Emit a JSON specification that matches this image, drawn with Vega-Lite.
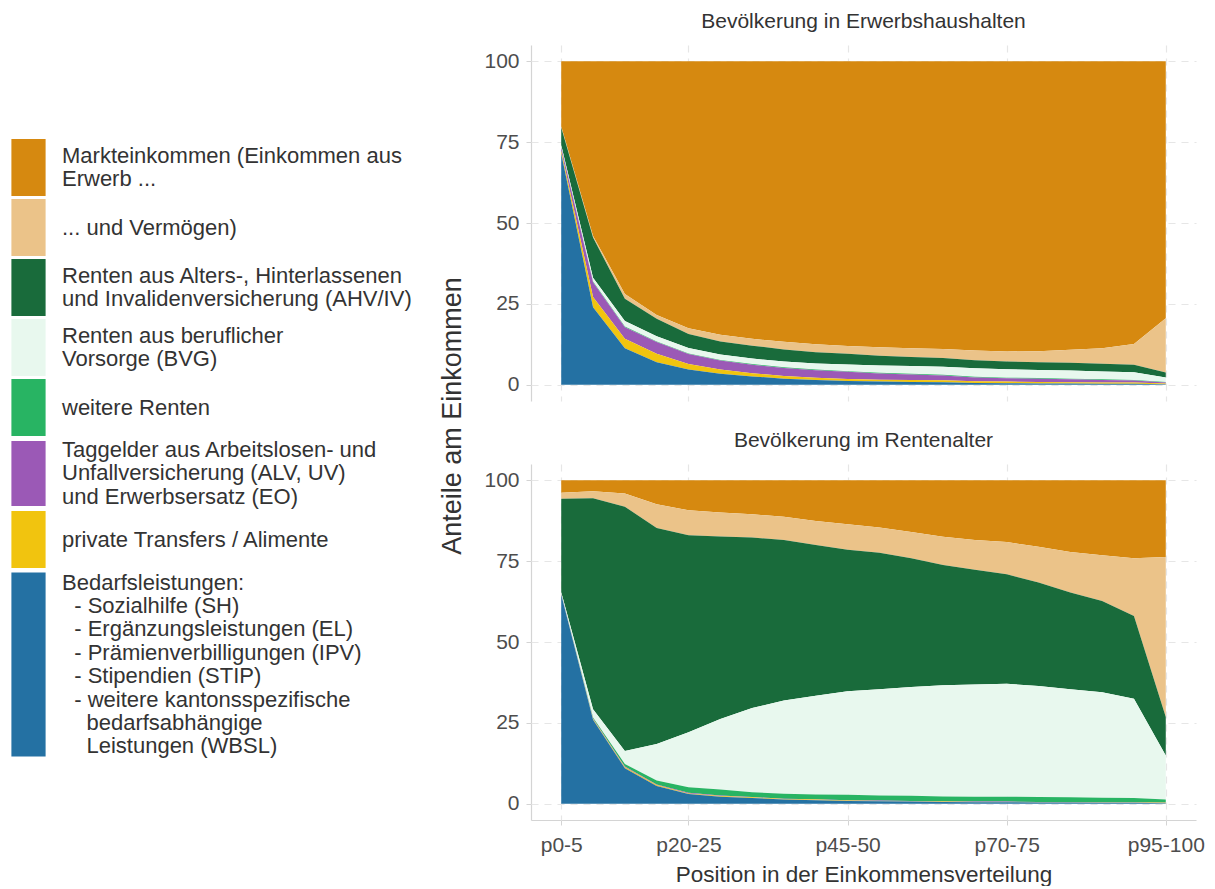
{
  "$schema": "https://vega.github.io/schema/vega-lite/v6.json",
  "background": "white",
  "padding": {"left": 0, "top": 11, "right": 20, "bottom": 0},
  "datasets": {
    "shares": [
      {"panel": "Bevölkerung in Erwerbshaushalten", "p": "p0-5", "Bedarf": 71.5, "Privat": 0.8, "Taggeld": 1.0, "Renten": 0.2, "BVG": 0.5, "AHV": 5.5, "Verm": 0.3, "Markt": 20.2},
      {"panel": "Bevölkerung in Erwerbshaushalten", "p": "p5-10", "Bedarf": 24.0, "Privat": 3.1, "Taggeld": 4.6, "Renten": 0.2, "BVG": 1.2, "AHV": 12.4, "Verm": 0.5, "Markt": 54.0},
      {"panel": "Bevölkerung in Erwerbshaushalten", "p": "p10-15", "Bedarf": 11.3, "Privat": 2.9, "Taggeld": 3.6, "Renten": 0.2, "BVG": 1.7, "AHV": 6.9, "Verm": 1.5, "Markt": 71.9},
      {"panel": "Bevölkerung in Erwerbshaushalten", "p": "p15-20", "Bedarf": 7.0, "Privat": 2.6, "Taggeld": 3.6, "Renten": 0.2, "BVG": 1.6, "AHV": 5.4, "Verm": 1.2, "Markt": 78.4},
      {"panel": "Bevölkerung in Erwerbshaushalten", "p": "p20-25", "Bedarf": 4.7, "Privat": 1.7, "Taggeld": 3.1, "Renten": 0.2, "BVG": 1.7, "AHV": 4.3, "Verm": 1.8, "Markt": 82.5},
      {"panel": "Bevölkerung in Erwerbshaushalten", "p": "p25-30", "Bedarf": 3.4, "Privat": 1.3, "Taggeld": 2.8, "Renten": 0.2, "BVG": 1.7, "AHV": 4.0, "Verm": 2.1, "Markt": 84.5},
      {"panel": "Bevölkerung in Erwerbshaushalten", "p": "p30-35", "Bedarf": 2.6, "Privat": 1.0, "Taggeld": 2.6, "Renten": 0.2, "BVG": 1.7, "AHV": 4.0, "Verm": 2.1, "Markt": 85.8},
      {"panel": "Bevölkerung in Erwerbshaushalten", "p": "p35-40", "Bedarf": 1.9, "Privat": 0.8, "Taggeld": 2.5, "Renten": 0.2, "BVG": 1.8, "AHV": 3.7, "Verm": 2.4, "Markt": 86.7},
      {"panel": "Bevölkerung in Erwerbshaushalten", "p": "p40-45", "Bedarf": 1.5, "Privat": 0.7, "Taggeld": 2.3, "Renten": 0.2, "BVG": 1.9, "AHV": 3.5, "Verm": 2.4, "Markt": 87.5},
      {"panel": "Bevölkerung in Erwerbshaushalten", "p": "p45-50", "Bedarf": 1.2, "Privat": 0.6, "Taggeld": 2.2, "Renten": 0.2, "BVG": 2.1, "AHV": 3.3, "Verm": 2.4, "Markt": 88.0},
      {"panel": "Bevölkerung in Erwerbshaushalten", "p": "p50-55", "Bedarf": 1.0, "Privat": 0.6, "Taggeld": 1.9, "Renten": 0.2, "BVG": 2.3, "AHV": 3.0, "Verm": 2.6, "Markt": 88.4},
      {"panel": "Bevölkerung in Erwerbshaushalten", "p": "p55-60", "Bedarf": 0.9, "Privat": 0.6, "Taggeld": 1.7, "Renten": 0.2, "BVG": 2.4, "AHV": 2.8, "Verm": 2.7, "Markt": 88.7},
      {"panel": "Bevölkerung in Erwerbshaushalten", "p": "p60-65", "Bedarf": 0.8, "Privat": 0.6, "Taggeld": 1.5, "Renten": 0.2, "BVG": 2.5, "AHV": 2.7, "Verm": 2.8, "Markt": 88.9},
      {"panel": "Bevölkerung in Erwerbshaushalten", "p": "p65-70", "Bedarf": 0.6, "Privat": 0.5, "Taggeld": 1.2, "Renten": 0.2, "BVG": 2.6, "AHV": 2.5, "Verm": 3.0, "Markt": 89.4},
      {"panel": "Bevölkerung in Erwerbshaushalten", "p": "p70-75", "Bedarf": 0.5, "Privat": 0.5, "Taggeld": 1.0, "Renten": 0.2, "BVG": 2.6, "AHV": 2.4, "Verm": 3.1, "Markt": 89.7},
      {"panel": "Bevölkerung in Erwerbshaushalten", "p": "p75-80", "Bedarf": 0.4, "Privat": 0.5, "Taggeld": 1.0, "Renten": 0.2, "BVG": 2.5, "AHV": 2.4, "Verm": 3.4, "Markt": 89.6},
      {"panel": "Bevölkerung in Erwerbshaushalten", "p": "p80-85", "Bedarf": 0.4, "Privat": 0.4, "Taggeld": 0.9, "Renten": 0.2, "BVG": 2.5, "AHV": 2.4, "Verm": 4.0, "Markt": 89.2},
      {"panel": "Bevölkerung in Erwerbshaushalten", "p": "p85-90", "Bedarf": 0.3, "Privat": 0.4, "Taggeld": 0.8, "Renten": 0.2, "BVG": 2.4, "AHV": 2.4, "Verm": 4.8, "Markt": 88.7},
      {"panel": "Bevölkerung in Erwerbshaushalten", "p": "p90-95", "Bedarf": 0.3, "Privat": 0.4, "Taggeld": 0.6, "Renten": 0.2, "BVG": 2.4, "AHV": 2.3, "Verm": 6.4, "Markt": 87.4},
      {"panel": "Bevölkerung in Erwerbshaushalten", "p": "p95-100", "Bedarf": 0.2, "Privat": 0.2, "Taggeld": 0.3, "Renten": 0.2, "BVG": 1.4, "AHV": 1.5, "Verm": 16.8, "Markt": 79.4},
      {"panel": "Bevölkerung im Rentenalter", "p": "p0-5", "Bedarf": 64.6, "Privat": 0.1, "Taggeld": 0.1, "Renten": 0.1, "BVG": 0.5, "AHV": 28.9, "Verm": 1.8, "Markt": 3.9},
      {"panel": "Bevölkerung im Rentenalter", "p": "p5-10", "Bedarf": 26.0, "Privat": 0.2, "Taggeld": 0.2, "Renten": 0.3, "BVG": 2.5, "AHV": 65.2, "Verm": 2.2, "Markt": 3.4},
      {"panel": "Bevölkerung im Rentenalter", "p": "p10-15", "Bedarf": 11.0, "Privat": 0.3, "Taggeld": 0.2, "Renten": 0.8, "BVG": 4.0, "AHV": 75.5, "Verm": 4.1, "Markt": 4.1},
      {"panel": "Bevölkerung im Rentenalter", "p": "p15-20", "Bedarf": 5.5, "Privat": 0.3, "Taggeld": 0.2, "Renten": 1.2, "BVG": 11.3, "AHV": 66.7, "Verm": 7.4, "Markt": 7.4},
      {"panel": "Bevölkerung im Rentenalter", "p": "p20-25", "Bedarf": 3.0, "Privat": 0.2, "Taggeld": 0.2, "Renten": 1.7, "BVG": 17.0, "AHV": 60.9, "Verm": 7.7, "Markt": 9.3},
      {"panel": "Bevölkerung im Rentenalter", "p": "p25-30", "Bedarf": 2.2, "Privat": 0.2, "Taggeld": 0.2, "Renten": 1.8, "BVG": 21.8, "AHV": 56.4, "Verm": 7.4, "Markt": 10.0},
      {"panel": "Bevölkerung im Rentenalter", "p": "p30-35", "Bedarf": 1.8, "Privat": 0.2, "Taggeld": 0.1, "Renten": 1.5, "BVG": 26.0, "AHV": 52.7, "Verm": 7.2, "Markt": 10.5},
      {"panel": "Bevölkerung im Rentenalter", "p": "p35-40", "Bedarf": 1.3, "Privat": 0.2, "Taggeld": 0.1, "Renten": 1.5, "BVG": 28.8, "AHV": 49.6, "Verm": 7.2, "Markt": 11.3},
      {"panel": "Bevölkerung im Rentenalter", "p": "p40-45", "Bedarf": 1.1, "Privat": 0.2, "Taggeld": 0.1, "Renten": 1.5, "BVG": 30.5, "AHV": 46.6, "Verm": 7.4, "Markt": 12.6},
      {"panel": "Bevölkerung im Rentenalter", "p": "p45-50", "Bedarf": 0.9, "Privat": 0.1, "Taggeld": 0.1, "Renten": 1.7, "BVG": 32.0, "AHV": 43.7, "Verm": 7.9, "Markt": 13.6},
      {"panel": "Bevölkerung im Rentenalter", "p": "p50-55", "Bedarf": 0.8, "Privat": 0.1, "Taggeld": 0.1, "Renten": 1.6, "BVG": 32.8, "AHV": 42.2, "Verm": 7.8, "Markt": 14.6},
      {"panel": "Bevölkerung im Rentenalter", "p": "p55-60", "Bedarf": 0.7, "Privat": 0.1, "Taggeld": 0.1, "Renten": 1.6, "BVG": 33.6, "AHV": 39.8, "Verm": 8.1, "Markt": 16.0},
      {"panel": "Bevölkerung im Rentenalter", "p": "p60-65", "Bedarf": 0.6, "Privat": 0.1, "Taggeld": 0.1, "Renten": 1.5, "BVG": 34.3, "AHV": 37.2, "Verm": 8.7, "Markt": 17.5},
      {"panel": "Bevölkerung im Rentenalter", "p": "p65-70", "Bedarf": 0.5, "Privat": 0.1, "Taggeld": 0.1, "Renten": 1.5, "BVG": 34.7, "AHV": 35.4, "Verm": 9.2, "Markt": 18.5},
      {"panel": "Bevölkerung im Rentenalter", "p": "p70-75", "Bedarf": 0.5, "Privat": 0.1, "Taggeld": 0.1, "Renten": 1.5, "BVG": 34.9, "AHV": 33.8, "Verm": 10.0, "Markt": 19.1},
      {"panel": "Bevölkerung im Rentenalter", "p": "p75-80", "Bedarf": 0.4, "Privat": 0.1, "Taggeld": 0.1, "Renten": 1.5, "BVG": 34.3, "AHV": 32.0, "Verm": 11.0, "Markt": 20.6},
      {"panel": "Bevölkerung im Rentenalter", "p": "p80-85", "Bedarf": 0.4, "Privat": 0.1, "Taggeld": 0.1, "Renten": 1.4, "BVG": 33.4, "AHV": 29.9, "Verm": 12.5, "Markt": 22.2},
      {"panel": "Bevölkerung im Rentenalter", "p": "p85-90", "Bedarf": 0.3, "Privat": 0.1, "Taggeld": 0.1, "Renten": 1.4, "BVG": 32.6, "AHV": 28.2, "Verm": 14.1, "Markt": 23.2},
      {"panel": "Bevölkerung im Rentenalter", "p": "p90-95", "Bedarf": 0.3, "Privat": 0.1, "Taggeld": 0.1, "Renten": 1.3, "BVG": 30.7, "AHV": 25.5, "Verm": 17.9, "Markt": 24.1},
      {"panel": "Bevölkerung im Rentenalter", "p": "p95-100", "Bedarf": 0.2, "Privat": 0.1, "Taggeld": 0.1, "Renten": 0.9, "BVG": 13.6, "AHV": 11.9, "Verm": 49.5, "Markt": 23.7}
    ]
  },
  "data": {"name": "shares"},
  "transform": [
    {"fold": ["Markt", "Verm", "AHV", "BVG", "Renten", "Taggeld", "Privat", "Bedarf"], "as": ["key", "share"]},
    {"calculate": "indexof(['Markt','Verm','AHV','BVG','Renten','Taggeld','Privat','Bedarf'], datum.key)", "as": "rank"}
  ],
  "facet": {
    "row": {
      "field": "panel",
      "type": "nominal",
      "sort": "descending",
      "header": {
        "title": "Anteile am Einkommen",
        "titleOrient": "left",
        "titleFontSize": 27,
        "titleFont": "Liberation Sans",
        "titleFontWeight": "normal",
        "titleColor": "#333333",
        "titlePadding": 6,
        "labelOrient": "top",
        "labelAngle": 0,
        "labelAnchor": "middle",
        "labelFontSize": 21,
        "labelColor": "#333333",
        "labelFont": "Liberation Sans",
        "labelPadding": -8
      }
    }
  },
  "spacing": {"row": 29},
  "spec": {
    "width": 665,
    "height": 356,
    "mark": {"type": "area", "interpolate": "linear", "opacity": 1},
    "encoding": {
      "x": {
        "field": "p",
        "type": "ordinal",
        "title": "Position in der Einkommensverteilung",
        "scale": {"type": "point", "padding": 0.95, "domain": ["p0-5", "p5-10", "p10-15", "p15-20", "p20-25", "p25-30", "p30-35", "p35-40", "p40-45", "p45-50", "p50-55", "p55-60", "p60-65", "p65-70", "p70-75", "p75-80", "p80-85", "p85-90", "p90-95", "p95-100"]},
        "axis": {"values": ["p0-5", "p20-25", "p45-50", "p70-75", "p95-100"], "labelAngle": 0, "labelPadding": 9, "titlePadding": 8, "titleFontSize": 22.5}
      },
      "y": {
        "field": "share",
        "type": "quantitative",
        "stack": "zero",
        "title": null,
        "scale": {"domain": [-5, 105], "nice": false, "zero": false},
        "axis": {"values": [0, 25, 50, 75, 100], "labelPadding": 7}
      },
      "color": {
        "field": "key",
        "type": "nominal",
        "scale": {
          "domain": ["Markt", "Verm", "AHV", "BVG", "Renten", "Taggeld", "Privat", "Bedarf"],
          "range": ["#D68910", "#EBC389", "#196B3B", "#E8F8EE", "#28B463", "#9B59B6", "#F1C40F", "#2471A3"]
        },
        "legend": {
          "title": null,
          "orient": "left",
          "offset": 26,
          "labelFontSize": 22,
          "labelColor": "#333333",
          "labelFont": "Liberation Sans",
          "labelLimit": 600,
          "labelOffset": 5,
          "symbolSize": 3249,
          "symbolStrokeWidth": 0,
          "symbolOpacity": 1,
          "rowPadding": 3,
          "labelExpr": "datum.value == 'Markt' ? ['Markteinkommen (Einkommen aus', 'Erwerb ...'] : datum.value == 'Verm' ? '... und Vermögen)' : datum.value == 'AHV' ? ['Renten aus Alters-, Hinterlassenen', 'und Invalidenversicherung (AHV/IV)'] : datum.value == 'BVG' ? ['Renten aus beruflicher', 'Vorsorge (BVG)'] : datum.value == 'Renten' ? 'weitere Renten' : datum.value == 'Taggeld' ? ['Taggelder aus Arbeitslosen- und', 'Unfallversicherung (ALV, UV)', 'und Erwerbsersatz (EO)'] : datum.value == 'Privat' ? 'private Transfers / Alimente' : ['Bedarfsleistungen:', '\u200b\u00a0\u00a0- Sozialhilfe (SH)', '\u200b\u00a0\u00a0- Ergänzungsleistungen (EL)', '\u200b\u00a0\u00a0- Prämienverbilligungen (IPV)', '\u200b\u00a0\u00a0- Stipendien (STIP)', '\u200b\u00a0\u00a0- weitere kantonsspezifische', '\u200b\u00a0\u00a0\u00a0\u00a0bedarfsabhängige', '\u200b\u00a0\u00a0\u00a0\u00a0Leistungen (WBSL)']",
          "encode": {
            "symbols": {"update": {"shape": {"signal": "datum.value == 'Bedarf' ? 'M-0.6,-3.23H0.6V3.23H-0.6Z' : datum.value == 'Taggeld' ? 'M-0.6,-1.14H0.6V1.14H-0.6Z' : 'M-0.6,-1H0.6V1H-0.6Z'"}}},
            "labels": {"update": {"lineHeight": {"value": 23.4}, "dy": {"signal": "datum.value == 'Bedarf' ? -81.9 : datum.value == 'Taggeld' ? -23.4 : (datum.value == 'Verm' || datum.value == 'Renten' || datum.value == 'Privat') ? 0 : -11.7"}}}
          }
        }
      },
      "order": {"field": "rank", "sort": "descending"}
    }
  },
  "config": {
    "view": {"stroke": null},
    "font": "Liberation Sans",
    "axis": {
      "labelFont": "Liberation Sans",
      "titleFont": "Liberation Sans",
      "labelFontSize": 21,
      "labelColor": "#4d4d4d",
      "titleFontSize": 23,
      "titleFontWeight": "normal",
      "titleColor": "#333333",
      "domainColor": "#d4d4d4",
      "domainWidth": 1.2,
      "tickColor": "#d4d4d4",
      "tickSize": 5,
      "grid": true,
      "gridColor": "#e6e6e6",
      "gridDash": [7, 6],
      "gridWidth": 1.2,
      "labelPadding": 5,
      "titlePadding": 8
    },
    "legend": {"layout": {"left": {"anchor": "middle"}}}
  }
}
